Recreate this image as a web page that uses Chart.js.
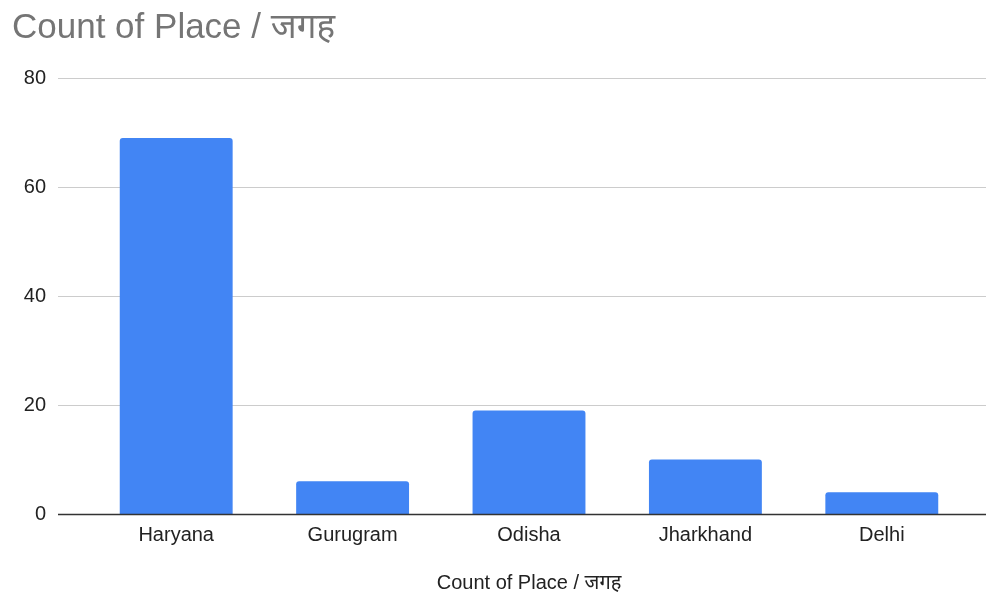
<!DOCTYPE html>
<html>
<head>
<meta charset="utf-8">
<script src="https://cdn.jsdelivr.net/npm/chart.js@4"></script>
<style>
  html, body { margin: 0; padding: 0; background: #fff; }
  #wrap { width: 986px; height: 595px; }
</style>
</head>
<body>
<div id="wrap"><canvas id="placeChart"></canvas></div>
<script>
const places = ['Haryana', 'Gurugram', 'Odisha', 'Jharkhand', 'Delhi'];
const counts = [69, 6, 19, 10, 4];
const yTicks = [0, 20, 40, 60, 80];

const FONT = '"Liberation Sans", Arial, "Noto Sans", sans-serif';

// gridlines in the sheet run wider than the bars' area, so draw them by hand
function drawLine(chart, v, color, width) {
  const c = chart.ctx;
  const py = Math.round(chart.scales.y.getPixelForValue(v)) + 0.5;
  c.save();
  c.beginPath();
  c.strokeStyle = color;
  c.lineWidth = width;
  c.moveTo(58, py);
  c.lineTo(chart.width, py);
  c.stroke();
  c.restore();
}

const wideGrid = {
  id: 'wideGrid',
  beforeDatasetsDraw(chart) {
    yTicks.forEach(v => { if (v !== 0) drawLine(chart, v, '#cccccc', 1); });
  },
  afterDatasetsDraw(chart) {
    drawLine(chart, 0, '#333333', 1.5);
  }
};

const ctx = document.getElementById('placeChart').getContext('2d');

const placeChart = new Chart(ctx, {
  type: 'bar',
  data: {
    labels: places,
    datasets: [{
      label: 'Count of Place / जगह',
      data: counts,
      backgroundColor: '#4285f4',
      borderRadius: 3,
      borderSkipped: 'bottom',
      barPercentage: 0.64,
      categoryPercentage: 1
    }]
  },
  options: {
    responsive: true,
    maintainAspectRatio: false,
    animation: false,
    layout: { padding: { left: 12, right: 16, top: 0, bottom: 0 } },
    plugins: {
      legend: { display: false },
      tooltip: { enabled: false },
      title: {
        display: true,
        text: 'Count of Place / जगह',
        align: 'start',
        color: '#757575',
        font: { family: FONT, size: 35, weight: 'normal' },
        padding: { top: 7, bottom: 29 }
      }
    },
    scales: {
      x: {
        afterFit: axis => { axis.height = 81; },
        grid: { display: false, drawTicks: false },
        border: { display: false },
        ticks: { color: '#222', font: { family: FONT, size: 20 }, padding: 9 },
        title: {
          display: true,
          text: 'Count of Place / जगह',
          color: '#222',
          font: { family: FONT, size: 20 },
          padding: { top: 0, bottom: 0 }
        }
      },
      y: {
        min: 0,
        max: 80,
        afterFit: axis => { axis.width = 76; },
        afterBuildTicks: axis => { axis.ticks = yTicks.map(v => ({ value: v })); },
        grid: { display: false, drawTicks: false },
        border: { display: false },
        ticks: { color: '#222', font: { family: FONT, size: 20 }, padding: 42 }
      }
    }
  },
  plugins: [wideGrid]
});
</script>
</body>
</html>
